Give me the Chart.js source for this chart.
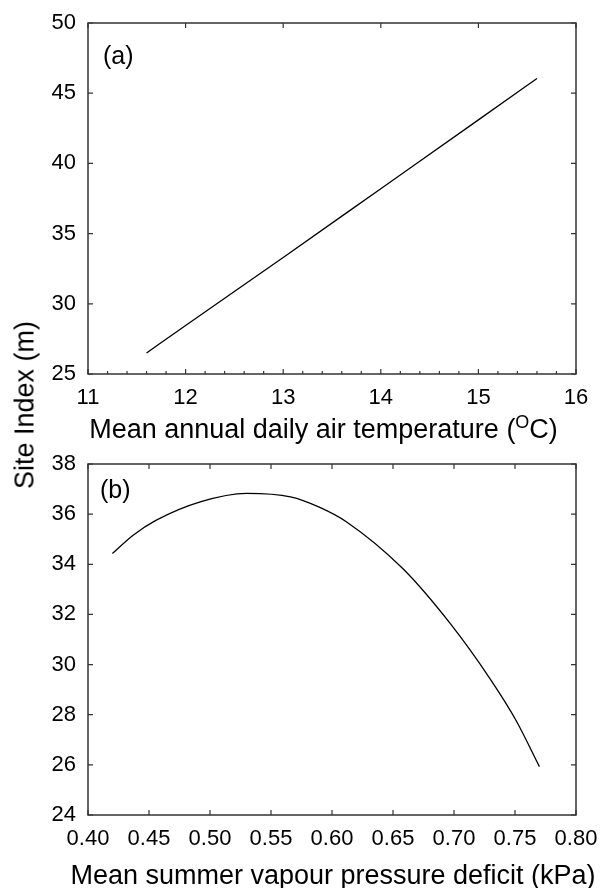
<!DOCTYPE html>
<html>
<head>
<meta charset="utf-8">
<script src="https://cdn.jsdelivr.net/npm/chart.js@4.4.1/dist/chart.umd.min.js"></script>
<style>
  body { margin: 0; background: #fff; }
  #wrap { position: relative; width: 602px; height: 888px; overflow: hidden; }
  canvas { position: absolute; left: 0; }
  #chartA { top: 0; }
  #chartB { top: 444px; }
  #ytitle {
    position: absolute; left: 25px; top: 405px;
    transform: translate(-50%, -50%) rotate(-90deg);
    font: 27px 'Liberation Sans', Arial, sans-serif;
    white-space: nowrap; color: #000;
  }
</style>
</head>
<body>
<div id="wrap">
  <canvas id="chartA" width="602" height="444"></canvas>
  <canvas id="chartB" width="602" height="444"></canvas>
  <div id="ytitle">Site Index (m)</div>
</div>
<script>
// panel (a): site index vs mean annual daily air temperature
const tempX = [11.6, 12.0, 13.0, 14.0, 15.0, 15.6];
const tempSI = [26.5, 28.45, 33.3, 38.2, 43.1, 46.05];
const tempTicks = [11, 12, 13, 14, 15, 16];
const tempSITicks = [25, 30, 35, 40, 45, 50];

// panel (b): site index vs mean summer vapour pressure deficit
const vpdX = [0.42, 0.437, 0.456, 0.492, 0.53, 0.566, 0.59, 0.612, 0.658, 0.697, 0.73, 0.751, 0.77];
const vpdSI = [34.43, 35.16, 35.76, 36.49, 36.83, 36.69, 36.27, 35.69, 33.83, 31.63, 29.4, 27.76, 25.93];
const vpdTicks = [0.40, 0.45, 0.50, 0.55, 0.60, 0.65, 0.70, 0.75, 0.80];
const vpdSITicks = [24, 26, 28, 30, 32, 34, 36, 38];

const FONT = "'Liberation Sans', Arial, sans-serif";
Chart.defaults.font.family = FONT;
Chart.defaults.color = '#000';

// box, inward ticks, panel letter and axis title
const framePlugin = {
  id: 'frame',
  afterDraw(chart, args, opts) {
    const { ctx, chartArea: a } = chart;
    const x = chart.scales.x, y = chart.scales.y;
    ctx.save();
    ctx.strokeStyle = '#333';
    ctx.lineWidth = 1.5;
    ctx.strokeRect(a.left, a.top, a.right - a.left, a.bottom - a.top);

    ctx.lineWidth = 1.2;
    ctx.beginPath();
    x.ticks.forEach(t => {
      const px = x.getPixelForValue(t.value);
      ctx.moveTo(px, a.bottom); ctx.lineTo(px, a.bottom - 5);
      ctx.moveTo(px, a.top); ctx.lineTo(px, a.top + 5);
    });
    y.ticks.forEach(t => {
      const py = y.getPixelForValue(t.value);
      ctx.moveTo(a.left, py); ctx.lineTo(a.left + 5, py);
      ctx.moveTo(a.right, py); ctx.lineTo(a.right - 5, py);
    });
    if (opts.minor) {
      for (let i = 0; i < x.ticks.length - 1; i++) {
        const v0 = x.ticks[i].value, v1 = x.ticks[i + 1].value;
        for (let k = 1; k < opts.minor; k++) {
          const px = x.getPixelForValue(v0 + (v1 - v0) * k / opts.minor);
          ctx.moveTo(px, a.bottom); ctx.lineTo(px, a.bottom - 3);
        }
      }
    }
    ctx.stroke();

    ctx.fillStyle = '#000';
    ctx.textBaseline = 'alphabetic';
    ctx.textAlign = 'left';
    ctx.font = '25px ' + FONT;
    ctx.fillText(opts.label, opts.labelX, opts.labelY);

    const main = '27px ' + FONT, sup = '18px ' + FONT;
    let total = 0;
    opts.title.forEach(p => { ctx.font = p.sup ? sup : main; total += ctx.measureText(p.text).width; });
    let cx = opts.titleX - total / 2;
    opts.title.forEach(p => {
      ctx.font = p.sup ? sup : main;
      ctx.fillText(p.text, cx, opts.titleY - (p.sup ? 9.5 : 0));
      cx += ctx.measureText(p.text).width;
    });
    ctx.restore();
  }
};

function makeChart(canvas, xs, ys, xMin, xMax, xTicks, yMin, yMax, yTicks, xFmt, extra) {
  return new Chart(canvas, {
    type: 'line',
    data: {
      datasets: [{
        data: xs.map((v, i) => ({ x: v, y: ys[i] })),
        borderColor: '#000',
        borderWidth: 1.3,
        pointRadius: 0,
        cubicInterpolationMode: 'monotone',
        fill: false
      }]
    },
    options: {
      responsive: false,
      animation: false,
      layout: { padding: { left: 0, right: 26, top: extra.top, bottom: 0 } },
      plugins: {
        legend: { display: false },
        tooltip: { enabled: false },
        frame: extra.frame
      },
      scales: {
        x: {
          type: 'linear', min: xMin, max: xMax,
          grid: { display: false, drawTicks: false },
          border: { display: false },
          afterBuildTicks: s => { s.ticks = xTicks.map(v => ({ value: v })); },
          afterFit: s => { s.height = extra.xH; s.paddingLeft = 0; s.paddingRight = 0; },
          ticks: { padding: 11, font: { size: 22 }, maxRotation: 0, autoSkip: false, callback: xFmt }
        },
        y: {
          type: 'linear', min: yMin, max: yMax,
          grid: { display: false, drawTicks: false },
          border: { display: false },
          afterBuildTicks: s => { s.ticks = yTicks.map(v => ({ value: v })); },
          afterFit: s => { s.width = 88; s.paddingTop = 0; s.paddingBottom = 0; },
          ticks: { padding: 12, font: { size: 22 }, autoSkip: false }
        }
      }
    },
    plugins: [framePlugin]
  });
}

makeChart(document.getElementById('chartA'), tempX, tempSI, 11, 16, tempTicks, 25, 50, tempSITicks,
  v => String(v),
  {
    top: 23, xH: 70,
    frame: {
      minor: 5, label: '(a)', labelX: 103, labelY: 64,
      titleX: 323.5, titleY: 437.5,
      title: [{ text: 'Mean annual daily air temperature (' }, { text: 'O', sup: true }, { text: 'C)' }]
    }
  });

makeChart(document.getElementById('chartB'), vpdX, vpdSI, 0.40, 0.80, vpdTicks, 24, 38, vpdSITicks,
  v => Number(v).toFixed(2),
  {
    top: 20, xH: 73,
    frame: {
      minor: 0, label: '(b)', labelX: 100, labelY: 53.5,
      titleX: 333, titleY: 440,
      title: [{ text: 'Mean summer vapour pressure deficit (kPa)' }]
    }
  });
</script>
</body>
</html>
